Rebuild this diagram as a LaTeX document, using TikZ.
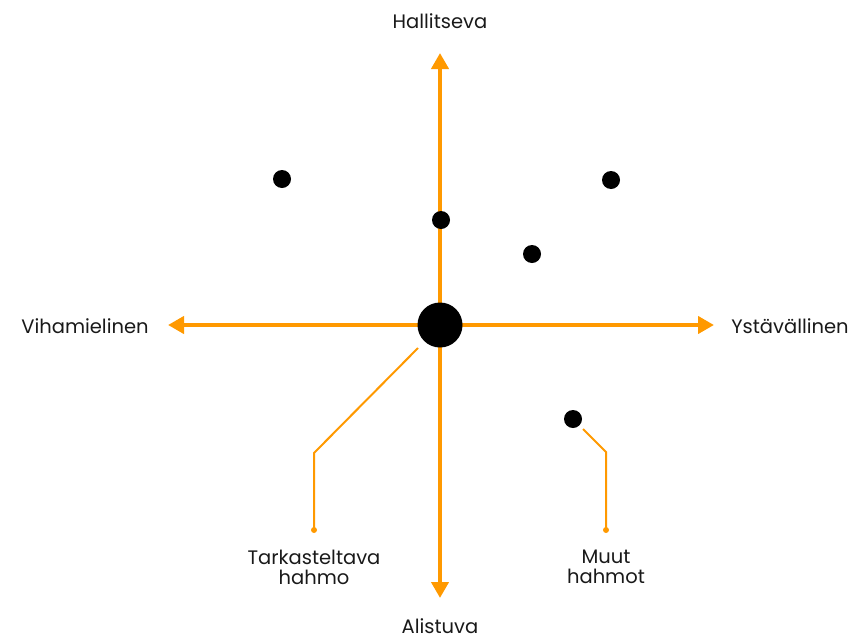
\documentclass[tikz,border=0pt]{standalone}
\usepackage{fontspec}
\setmainfont{Poppins}
\usetikzlibrary{arrows.meta}
\definecolor{axisorange}{RGB}{255,153,0}
\tikzset{
  axis/.style={draw=axisorange, line width=4pt, -{Triangle[length=16pt,width=17pt]}},
  leader/.style={draw=axisorange, line width=2pt},
  enddot/.style={circle, fill=axisorange, inner sep=0pt, minimum size=6pt},
  person/.style={circle, fill=black, inner sep=0pt, minimum size=18pt},
  self/.style={circle, fill=black, inner sep=0pt, minimum size=45pt},
  lbl/.style={font=\fontsize{19.5}{20}\selectfont, text=black!90, align=center, inner sep=0pt}
}
\begin{document}
\begin{tikzpicture}[x=1pt,y=-1pt]
  \useasboundingbox (0,0) rectangle (850,640);
  % axes
  \coordinate (c) at (440,325);
  \coordinate (top) at (440,53);
  \coordinate (bottom) at (440,598);
  \coordinate (left) at (168,325);
  \coordinate (right) at (714,325);
  \draw[axis] (c) -- (top);
  \draw[axis] (c) -- (bottom);
  \draw[axis] (c) -- (left);
  \draw[axis] (c) -- (right);
  % characters
  \node[self] (me) at (c) {};
  \node[person] (p1) at (282,179) {};
  \node[person] (p2) at (611,180) {};
  \node[person] (p3) at (441,220) {};
  \node[person] (p4) at (532,254) {};
  \node[person] (p5) at (573,419) {};
  % axis labels
  \node[lbl] (n) at (440,21) {Hallitseva};
  \node[lbl] (s) at (440,626) {Alistuva};
  \node[lbl] (w) at (85,326) {Vihamielinen};
  \node[lbl] (e) at (790,326) {Ystävällinen};
  % callouts
  \node[enddot] (d1) at (314,530) {};
  \node[enddot] (d2) at (606,530) {};
  \coordinate (s1) at (418,348);
  \coordinate (k1) at (314,453);
  \coordinate (s2) at (583,429);
  \coordinate (k2) at (606,452);
  \draw[leader] (s1) -- (k1) -- (d1.center);
  \draw[leader] (s2) -- (k2) -- (d2.center);
  \node[lbl] (t1) at (314,567) {Tarkasteltava\\hahmo};
  \node[lbl] (t2) at (606,567) {Muut\\hahmot};
\end{tikzpicture}
\end{document}
